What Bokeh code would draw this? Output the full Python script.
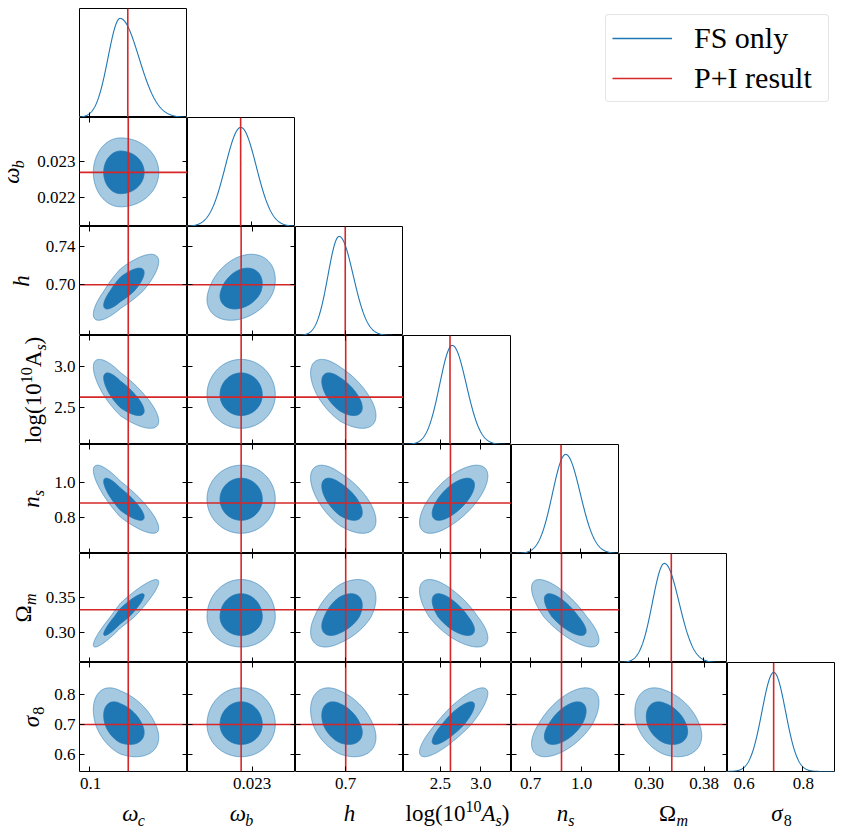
import numpy as np
from bokeh.plotting import figure
from bokeh.models import Range1d, LinearAxis, FixedTicker, Legend, LegendItem, GridPlot
from bokeh.core.properties import value
from bokeh.embed import file_html
from bokeh.resources import INLINE

# ---------------- data ----------------
param_names = ["omega_c", "omega_b", "h", "log10As", "n_s", "Omega_m", "sigma_8"]
axis_lo = [0.0953, 0.02119, 0.647, 2.042, 0.588, 0.257, 0.544]
axis_hi = [0.1456, 0.02421, 0.761, 3.381, 1.223, 0.414, 0.908]

x_tick_values = [[0.1], [0.023], [0.7], [2.5, 3.0], [0.7, 1.0], [0.30, 0.38], [0.6, 0.8]]
x_tick_labels = [["0.1"], ["0.023"], ["0.7"], ["2.5", "3.0"], ["0.7", "1.0"], ["0.30", "0.38"], ["0.6", "0.8"]]
y_tick_values = [[], [0.022, 0.023], [0.70, 0.74], [2.5, 3.0], [0.8, 1.0], [0.30, 0.35], [0.6, 0.7, 0.8]]
y_tick_labels = [[], ["0.022", "0.023"], ["0.70", "0.74"], ["2.5", "3.0"], ["0.8", "1.0"], ["0.30", "0.35"], ["0.6", "0.7", "0.8"]]

# P+I result (red lines)
pi_result = [0.118, 0.02269, 0.700, 2.624, 0.882, 0.333, 0.701]

# FS only: 1D marginals (mode, lower / upper width)
marg_mode = [0.1144, 0.022694, 0.6935, 2.653, 0.9096, 0.3229, 0.7014]
marg_sig_lo = [0.00566, 0.000437, 0.0119, 0.158, 0.0784, 0.0176, 0.0401]
marg_sig_hi = [0.00882, 0.000437, 0.0150, 0.175, 0.0864, 0.0215, 0.0401]

# FS only: 2D contours (centre, lower / upper width, correlations)
cont_mode = [0.1144, 0.02269, 0.694, 2.652, 0.904, 0.3229, 0.701]
cont_sig_lo = [0.00517, 0.00039, 0.0127, 0.168, 0.081, 0.0178, 0.044]
cont_sig_hi = [0.00727, 0.00039, 0.0155, 0.178, 0.081, 0.0219, 0.050]
corr_rows = [
    [],
    [0.0],
    [0.80, 0.30],
    [-0.78, 0.0, -0.62],
    [-0.85, 0.0, -0.63, 0.68],
    [0.93, 0.0, 0.50, -0.70, -0.77],
    [-0.40, 0.0, -0.40, 0.85, 0.60, -0.35],
]
contour_levels = [0.95, 0.68]

legend_labels = ["FS only", "P+I result"]

# axis labels: (text, font style, role)
bottom_label_parts = [
    [("ω", "italic", "main"), ("c", "italic", "sub")],
    [("ω", "italic", "main"), ("b", "italic", "sub")],
    [("h", "italic", "main")],
    [("log(10", "normal", "main"), ("10", "normal", "sup"), ("A", "italic", "main"),
     ("s", "italic", "sub"), (")", "normal", "main")],
    [("n", "italic", "main"), ("s", "italic", "sub")],
    [("Ω", "normal", "main"), ("m", "italic", "sub")],
    [("σ", "italic", "main"), ("8", "normal", "sub")],
]
left_label_parts = [
    [],
    [("ω", "italic", "main"), ("b", "italic", "sub")],
    [("h", "italic", "main")],
    [("log(10", "normal", "main"), ("10", "normal", "sup"), ("A", "normal", "main"),
     ("s", "italic", "sub"), (")", "normal", "main")],
    [("n", "italic", "main"), ("s", "italic", "sub")],
    [("Ω", "normal", "main"), ("m", "italic", "sub")],
    [("σ", "italic", "main"), ("8", "normal", "sub")],
]

# ---------------- style ----------------
N = 7
FW, FH = 108, 109
LEFT_W = 79          # width of the column holding the y tick labels / y labels
BOT_H = 59           # height of the row holding the x tick labels / x labels
TOP_B = 8
BLUE = "#1f77b4"
RED = "#d62728"
FONT = "Liberation Serif"
TICK_SIZE = "17px"
MAIN_SIZE, SUB_SIZE = 23, 16
LEFT_BASELINE = [None, 19, 29, 41, 39, 31, 39]   # px from the left edge
BOTTOM_BASELINE = 49                             # px below the cell bottom
BASELINE_FIX = 0.35                              # em, renderer baseline compensation

EM_NORMAL = {"l": 0.278, "o": 0.5, "g": 0.5, "(": 0.333, ")": 0.333, "Ω": 0.768, "A": 0.722}
EM_ITALIC = {"ω": 0.67, "h": 0.5, "n": 0.5, "σ": 0.55, "A": 0.611, "b": 0.5, "c": 0.444,
             "s": 0.389, "m": 0.722}


def text_width(txt, style, size):
    table = EM_ITALIC if style == "italic" else EM_NORMAL
    return sum(table.get(ch, 0.5) for ch in txt) * size


def draw_math_label(p, parts, x, y, vertical):
    """Draw a label made of main / sub / sup pieces as text glyphs around (x, y)."""
    sizes = [MAIN_SIZE if role == "main" else SUB_SIZE for _, _, role in parts]
    widths = [text_width(t, s, z) for (t, s, _), z in zip(parts, sizes)]
    total = sum(widths)
    pos = -total / 2.0
    for (txt, style, role), size, w in zip(parts, sizes, widths):
        shift = {"main": 0, "sub": -5, "sup": 9}[role] + BASELINE_FIX * size
        if vertical:
            xo, yo, ang = -shift, -pos, np.pi / 2
        else:
            xo, yo, ang = pos, -shift, 0.0
        p.text(x=[x], y=[y], text=[txt], angle=ang, x_offset=xo, y_offset=yo,
               text_font=value(FONT), text_font_style=value(style),
               text_font_size=value(f"{size}px"), text_color="black",
               text_align="left", text_baseline="alphabetic")
        pos += w


def tick_axis(ticks, fixed, labels=None, standoff=4):
    ax = LinearAxis(ticker=FixedTicker(ticks=list(ticks), minor_ticks=[]))
    ax.fixed_location = fixed
    ax.axis_line_color = None
    ax.minor_tick_in = 0
    ax.minor_tick_out = 0
    if labels is None:
        ax.major_tick_in = 5
        ax.major_tick_out = 0
        ax.major_tick_line_color = "black"
        ax.major_tick_line_width = 1
        ax.major_label_text_color = None
    else:
        ax.major_tick_in = 0
        ax.major_tick_out = 0
        ax.major_tick_line_color = None
        ax.major_label_overrides = {float(t): s for t, s in zip(ticks, labels)}
        ax.major_label_text_font = FONT
        ax.major_label_text_font_size = TICK_SIZE
        ax.major_label_text_color = "black"
        ax.major_label_standoff = standoff
    return ax


def base_fig(xr, yr, fw, fh, **borders):
    p = figure(x_range=xr, y_range=yr, frame_width=fw, frame_height=fh,
               x_axis_type=None, y_axis_type=None, tools="", toolbar_location=None,
               output_backend="svg",
               min_border_left=borders.get("left", 0), min_border_right=borders.get("right", 0),
               min_border_top=borders.get("top", 0), min_border_bottom=borders.get("bottom", 0))
    p.background_fill_color = "white"
    p.border_fill_color = "white"
    return p


def make_cell(i, j):
    diag = i == j
    fw = FW - 1 if diag else FW
    p = base_fig(Range1d(axis_lo[j], axis_hi[j]),
                 Range1d(0, 1.1) if diag else Range1d(axis_lo[i], axis_hi[i]),
                 fw, FH, right=1 if diag else 0, top=TOP_B if i == 0 else 0,
                 bottom=1 if i == N - 1 else 0)
    p.outline_line_color = "black"
    p.outline_line_width = 1
    p.outline_line_alpha = 1

    if diag:
        xs = np.linspace(axis_lo[i], axis_hi[i], 400)
        u = xs - marg_mode[i]
        z = np.where(u < 0, u / marg_sig_lo[i], u / marg_sig_hi[i])
        p.line(xs, np.exp(-0.5 * z ** 2), line_color=BLUE, line_width=1.1)
        p.line([pi_result[i], pi_result[i]], [0, 1.1], line_color=RED, line_width=1.6)
        p.add_layout(tick_axis(x_tick_values[j], 0.0), "below")
    else:
        rho = corr_rows[i][j]
        t = np.linspace(0, 2 * np.pi, 360)
        for k, lev in enumerate(contour_levels):
            r = np.sqrt(-2.0 * np.log(1.0 - lev))
            z1 = r * np.cos(t)
            z2 = r * (rho * np.cos(t) + np.sqrt(1 - rho ** 2) * np.sin(t))
            xs = cont_mode[j] + np.where(z1 < 0, z1 * cont_sig_lo[j], z1 * cont_sig_hi[j])
            ys = cont_mode[i] + np.where(z2 < 0, z2 * cont_sig_lo[i], z2 * cont_sig_hi[i])
            if k == 0:
                p.patch(xs, ys, fill_color=BLUE, fill_alpha=0.4,
                        line_color=BLUE, line_alpha=0.55, line_width=1)
            else:
                p.patch(xs, ys, fill_color=BLUE, fill_alpha=1.0,
                        line_color=BLUE, line_alpha=1.0, line_width=1)
        p.line([pi_result[j], pi_result[j]], [axis_lo[i], axis_hi[i]], line_color=RED, line_width=1.6)
        p.line([axis_lo[j], axis_hi[j]], [pi_result[i], pi_result[i]], line_color=RED, line_width=1.6)
        p.add_layout(tick_axis(y_tick_values[i], axis_lo[j]), "left")
        p.add_layout(tick_axis(y_tick_values[i], axis_hi[j]), "right")
        p.add_layout(tick_axis(x_tick_values[j], axis_hi[i]), "above")
        p.add_layout(tick_axis(x_tick_values[j], axis_lo[i]), "below")
    return p


def make_left_labels(i):
    p = base_fig(Range1d(0, LEFT_W), Range1d(axis_lo[i], axis_hi[i]), LEFT_W, FH,
                 bottom=1 if i == N - 1 else 0)
    p.outline_line_color = None
    p.add_layout(tick_axis(y_tick_values[i], LEFT_W, y_tick_labels[i], standoff=4), "left")
    draw_math_label(p, left_label_parts[i], LEFT_BASELINE[i], (axis_lo[i] + axis_hi[i]) / 2.0, True)
    return p


def make_bottom_labels(j):
    p = base_fig(Range1d(axis_lo[j], axis_hi[j]), Range1d(0, BOT_H), FW, BOT_H)
    p.outline_line_color = None
    p.add_layout(tick_axis(x_tick_values[j], BOT_H, x_tick_labels[j], standoff=5), "below")
    draw_math_label(p, bottom_label_parts[j], (axis_lo[j] + axis_hi[j]) / 2.0,
                    BOT_H - BOTTOM_BASELINE, False)
    return p


children = []
for i in range(N):
    for j in range(i + 1):
        children.append((make_cell(i, j), i, j + 1))
for i in range(1, N):
    children.append((make_left_labels(i), i, 0))
for j in range(N):
    children.append((make_bottom_labels(j), N, j + 1))

# legend panel in the empty upper-right area
lp = base_fig(Range1d(0, 1), Range1d(0, 1), 3 * FW, FH, top=TOP_B)
lp.outline_line_color = None
nan2 = [float("nan"), float("nan")]
r_fs = lp.line(x=nan2, y=nan2, line_color=BLUE, line_width=1.6)
r_pi = lp.line(x=nan2, y=nan2, line_color=RED, line_width=1.6)
leg = Legend(items=[LegendItem(label=legend_labels[0], renderers=[r_fs]),
                    LegendItem(label=legend_labels[1], renderers=[r_pi])],
             location=(94, 15), orientation="vertical")
leg.label_text_font = FONT
leg.label_text_font_size = "30px"
leg.label_text_color = "black"
leg.glyph_width = 60
leg.glyph_height = 34
leg.label_height = 34
leg.label_width = 128
leg.label_standoff = 22
leg.spacing = 6
leg.padding = 6
leg.margin = 0
leg.border_line_color = "#cccccc"
leg.border_line_width = 1
leg.background_fill_alpha = 0.8
if "border_radius" in Legend.properties():
    leg.border_radius = 4
lp.add_layout(leg)
children.append((lp, 0, 5, 1, 3))

grid = GridPlot(children=children, toolbar_location=None)

open("out.html", "w").write(file_html(grid, INLINE, title="corner plot"))
